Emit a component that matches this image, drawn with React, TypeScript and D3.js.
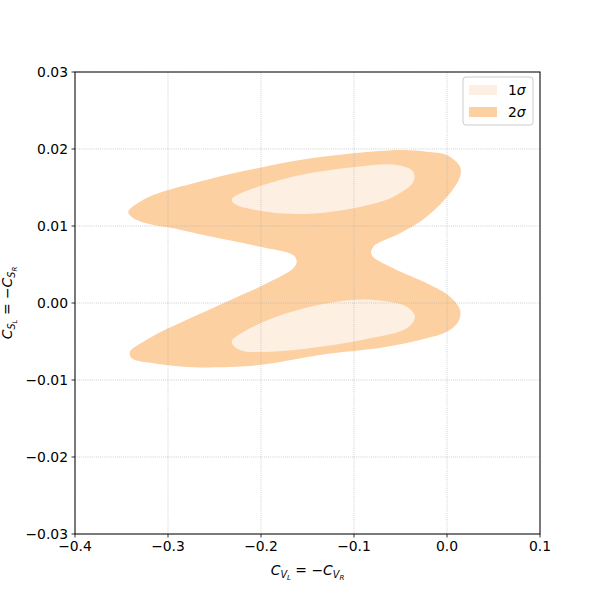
import React from "react";
import * as d3 from "d3";

const xTicks = [-0.4, -0.3, -0.2, -0.1, 0.0, 0.1];
const yTicks = [-0.03, -0.02, -0.01, 0.0, 0.01, 0.02, 0.03];

// 2 sigma outer contour [C_V, C_S]
const sigma2: [number, number][] = [
  [-0.3427, 0.01186], [-0.3301, 0.01316], [-0.3158, 0.01403], [-0.2997, 0.01468],
  [-0.262, 0.01588], [-0.2298, 0.01684], [-0.2011, 0.01757], [-0.1581, 0.01857],
  [-0.1007, 0.01944], [-0.047, 0.01987], [-0.0218, 0.01965], [-0.0003, 0.01922],
  [0.014, 0.0177], [0.014, 0.0164], [0.0032, 0.01425], [-0.0218, 0.01121],
  [-0.0505, 0.00905], [-0.0792, 0.00731], [-0.081, 0.00623], [-0.0577, 0.00451],
  [-0.0218, 0.00256], [0.0032, 0.00082], [0.014, -0.00091], [0.0122, -0.00243],
  [-0.0003, -0.00373], [-0.0218, -0.00458], [-0.0648, -0.00568], [-0.1366, -0.00675],
  [-0.2011, -0.00805], [-0.2476, -0.00835], [-0.2728, -0.00835], [-0.3158, -0.00783],
  [-0.339, -0.00718], [-0.3409, -0.00632], [-0.3266, -0.00503], [-0.2997, -0.00329],
  [-0.2369, 0.00017], [-0.1975, 0.00234], [-0.1653, 0.00451], [-0.1616, 0.00536],
  [-0.1653, 0.00623], [-0.2011, 0.00731], [-0.262, 0.00883], [-0.2997, 0.00983],
  [-0.3158, 0.01013], [-0.3373, 0.011],
];

// 1 sigma upper island
const sigma1Upper: [number, number][] = [
  [-0.2315, 0.01347], [-0.1724, 0.01619], [-0.1007, 0.01762], [-0.0541, 0.01792],
  [-0.0362, 0.01705], [-0.0362, 0.01575], [-0.0577, 0.01381], [-0.1007, 0.0123],
  [-0.1509, 0.01156], [-0.2011, 0.01199], [-0.228, 0.01286],
];

// 1 sigma lower island
const sigma1Lower: [number, number][] = [
  [-0.2315, -0.00503], [-0.2154, -0.00351], [-0.1724, -0.00134], [-0.1186, 0.00017],
  [-0.0792, 0.00039], [-0.0433, -0.00048], [-0.0344, -0.00178], [-0.0433, -0.00329],
  [-0.0828, -0.00458], [-0.1366, -0.00568], [-0.1903, -0.00632], [-0.2226, -0.0061],
];

const legendLabels = ["1σ", "2σ"];
const colors = ["#feefe3", "#fdd0a2"];

const L = 75, R = 540, T = 72, B = 534;
const FONT = "DejaVu Sans, sans-serif";
const FS = 13.9;

function fmtY(v: number) {
  const s = Math.abs(v).toFixed(2);
  return v < -1e-9 ? "\u2212" + s : s;
}
function fmtX(v: number) {
  const s = Math.abs(v).toFixed(1);
  return v < -1e-9 ? "\u2212" + s : s;
}

export default function App() {
  const x = d3.scaleLinear().domain([-0.4, 0.1]).range([L, R]);
  const y = d3.scaleLinear().domain([-0.03, 0.03]).range([B, T]);
  const line = d3
    .line<[number, number]>()
    .x((d) => x(d[0]))
    .y((d) => y(d[1]))
    .curve(d3.curveCatmullRomClosed.alpha(0.5));

  return (
    <svg
      width={600}
      height={600}
      style={{ position: "absolute", left: 0, top: 0, background: "#fff" }}
      fontFamily={FONT}
    >
      <path d={line(sigma2) || ""} fill={colors[1]} />
      <path d={line(sigma1Upper) || ""} fill={colors[0]} />
      <path d={line(sigma1Lower) || ""} fill={colors[0]} />

      {/* grid */}
      {xTicks.map((t) => (
        <line key={"gx" + t} x1={x(t)} x2={x(t)} y1={T} y2={B} stroke="#b0b0b0" strokeWidth={0.8} strokeDasharray="0.8,1.3" opacity={0.9} />
      ))}
      {yTicks.map((t) => (
        <line key={"gy" + t} x1={L} x2={R} y1={y(t)} y2={y(t)} stroke="#b0b0b0" strokeWidth={0.8} strokeDasharray="0.8,1.3" opacity={0.9} />
      ))}

      {/* frame */}
      <rect x={L} y={T} width={R - L} height={B - T} fill="none" stroke="#000" strokeWidth={1} />

      {/* x ticks */}
      {xTicks.map((t) => (
        <g key={"xt" + t}>
          <line x1={x(t)} x2={x(t)} y1={B} y2={B + 3.5} stroke="#000" strokeWidth={0.8} />
          <text x={x(t)} y={B + 17} fontSize={FS} textAnchor="middle">{fmtX(t)}</text>
        </g>
      ))}
      {/* y ticks */}
      {yTicks.map((t) => (
        <g key={"yt" + t}>
          <line x1={L - 3.5} x2={L} y1={y(t)} y2={y(t)} stroke="#000" strokeWidth={0.8} />
          <text x={L - 7} y={y(t) + 5} fontSize={FS} textAnchor="end">{fmtY(t)}</text>
        </g>
      ))}

      {/* x label */}
      <text x={(L + R) / 2} y={575} fontSize={FS} textAnchor="middle">
        <tspan fontStyle="italic">C</tspan>
        <tspan fontStyle="italic" fontSize={9.7} dy={3}>V</tspan>
        <tspan fontStyle="italic" fontSize={7} dy={2}>L</tspan>
        <tspan dy={-5}> = −</tspan>
        <tspan fontStyle="italic">C</tspan>
        <tspan fontStyle="italic" fontSize={9.7} dy={3}>V</tspan>
        <tspan fontStyle="italic" fontSize={7} dy={2}>R</tspan>
      </text>

      {/* y label */}
      <text transform={`translate(12,${(T + B) / 2}) rotate(-90)`} fontSize={FS} textAnchor="middle">
        <tspan fontStyle="italic">C</tspan>
        <tspan fontStyle="italic" fontSize={9.7} dy={3}>S</tspan>
        <tspan fontStyle="italic" fontSize={7} dy={2}>L</tspan>
        <tspan dy={-5}> = −</tspan>
        <tspan fontStyle="italic">C</tspan>
        <tspan fontStyle="italic" fontSize={9.7} dy={3}>S</tspan>
        <tspan fontStyle="italic" fontSize={7} dy={2}>R</tspan>
      </text>

      {/* legend */}
      <rect x={463} y={77} width={70} height={48} rx={3} fill="#fff" fillOpacity={0.8} stroke="#cccccc" strokeWidth={1} />
      {legendLabels.map((lab, i) => (
        <g key={lab}>
          <rect x={469} y={85 + i * 22} width={28} height={10} fill={colors[i]} />
          <text x={508} y={95 + i * 22} fontSize={FS}>
            {lab.slice(0, 1)}
            <tspan fontStyle="italic">{lab.slice(1)}</tspan>
          </text>
        </g>
      ))}
    </svg>
  );
}
